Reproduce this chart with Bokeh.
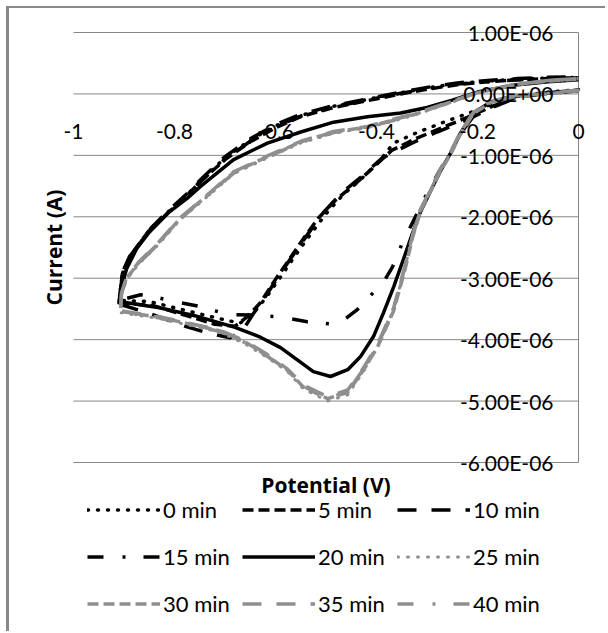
import math
from bokeh.plotting import figure
from bokeh.models import Range1d, FixedTicker, Label, Legend, LegendItem
from bokeh.embed import file_html
from bokeh.resources import INLINE

# ---------------- data (Potential in V, Current in A) ----------------
x_ticks = [-1.0, -0.8, -0.6, -0.4, -0.2, 0.0]
x_labels = ["-1", "-0.8", "-0.6", "-0.4", "-0.2", "0"]
y_ticks = [1e-06, 0.0, -1e-06, -2e-06, -3e-06, -4e-06, -5e-06, -6e-06]
y_labels = ["1.00E-06", "0.00E+00", "-1.00E-06", "-2.00E-06", "-3.00E-06",
            "-4.00E-06", "-5.00E-06", "-6.00E-06"]

series_names = ["0 min", "5 min", "10 min", "15 min", "20 min",
                "25 min", "30 min", "35 min", "40 min"]

pot_0 = [0.0, -0.06, -0.12, -0.17, -0.22, -0.27, -0.32, -0.366, -0.392, -0.432,
         -0.465, -0.50, -0.53, -0.56, -0.59, -0.62, -0.645, -0.67, -0.70, -0.75,
         -0.80, -0.85, -0.91, -0.903, -0.89, -0.868, -0.848, -0.814, -0.774, -0.745,
         -0.70, -0.65, -0.60, -0.55, -0.485, -0.418, -0.352, -0.29, -0.24, -0.18,
         -0.12, -0.06, 0.0]
cur_0 = [0.07e-6, 0.03e-6, -0.03e-6, -0.17e-6, -0.32e-6, -0.47e-6, -0.63e-6, -0.80e-6, -1.07e-6, -1.40e-6,
         -1.63e-6, -1.95e-6, -2.28e-6, -2.62e-6, -2.98e-6, -3.33e-6, -3.58e-6, -3.73e-6, -3.68e-6, -3.58e-6,
         -3.48e-6, -3.38e-6, -3.36e-6, -2.95e-6, -2.68e-6, -2.42e-6, -2.2e-6, -1.93e-6, -1.63e-6, -1.39e-6,
         -1.04e-6, -0.75e-6, -0.52e-6, -0.35e-6, -0.2e-6, -0.09e-6, 0.02e-6, 0.11e-6, 0.17e-6, 0.21e-6,
         0.24e-6, 0.26e-6, 0.27e-6]

pot_5 = [0.0, -0.06, -0.12, -0.17, -0.22, -0.27, -0.32, -0.37, -0.40, -0.44,
         -0.48, -0.515, -0.545, -0.575, -0.605, -0.63, -0.655, -0.68, -0.72, -0.78,
         -0.84, -0.91, -0.904, -0.892, -0.87, -0.85, -0.815, -0.776, -0.748, -0.70,
         -0.65, -0.60, -0.55, -0.485, -0.418, -0.352, -0.29, -0.24, -0.18, -0.12,
         -0.06, 0.0]
cur_5 = [0.06e-6, 0.02e-6, -0.04e-6, -0.2e-6, -0.38e-6, -0.55e-6, -0.72e-6, -0.92e-6, -1.15e-6, -1.45e-6,
         -1.72e-6, -2.02e-6, -2.36e-6, -2.72e-6, -3.08e-6, -3.4e-6, -3.62e-6, -3.78e-6, -3.75e-6, -3.6e-6,
         -3.45e-6, -3.4e-6, -2.98e-6, -2.7e-6, -2.44e-6, -2.22e-6, -1.95e-6, -1.66e-6, -1.42e-6, -1.07e-6,
         -0.78e-6, -0.55e-6, -0.37e-6, -0.22e-6, -0.11e-6, 0.0, 0.09e-6, 0.15e-6, 0.2e-6, 0.23e-6,
         0.25e-6, 0.26e-6]

pot_10 = [0.0, -0.06, -0.12, -0.17, -0.22, -0.28, -0.33, -0.39, -0.43, -0.47,
          -0.505, -0.535, -0.565, -0.595, -0.62, -0.645, -0.665, -0.69, -0.73, -0.78,
          -0.84, -0.91, -0.903, -0.89, -0.866, -0.846, -0.812, -0.772, -0.744, -0.70,
          -0.65, -0.60, -0.55, -0.485, -0.418, -0.352, -0.29, -0.24, -0.18, -0.12,
          -0.06, 0.0]
cur_10 = [0.05e-6, 0.01e-6, -0.05e-6, -0.22e-6, -0.42e-6, -0.62e-6, -0.80e-6, -1.05e-6, -1.35e-6, -1.62e-6,
          -1.93e-6, -2.27e-6, -2.62e-6, -2.98e-6, -3.3e-6, -3.59e-6, -3.85e-6, -3.97e-6, -3.9e-6, -3.78e-6,
          -3.6e-6, -3.42e-6, -2.92e-6, -2.66e-6, -2.4e-6, -2.18e-6, -1.9e-6, -1.6e-6, -1.36e-6, -1.02e-6,
          -0.73e-6, -0.5e-6, -0.33e-6, -0.19e-6, -0.08e-6, 0.03e-6, 0.12e-6, 0.18e-6, 0.22e-6, 0.25e-6,
          0.27e-6, 0.28e-6]

pot_15 = [0.0, -0.06, -0.12, -0.17, -0.2, -0.225, -0.25, -0.275, -0.3, -0.32,
          -0.335, -0.35, -0.368, -0.385, -0.402, -0.42, -0.438, -0.46, -0.481, -0.537,
          -0.59, -0.645, -0.695, -0.749, -0.80, -0.842, -0.867, -0.91, -0.902, -0.888,
          -0.866, -0.846, -0.812, -0.773, -0.746, -0.70, -0.65, -0.60, -0.55, -0.485,
          -0.418, -0.352, -0.29, -0.24, -0.18, -0.12, -0.06, 0.0]
cur_15 = [0.06e-6, 0.02e-6, -0.03e-6, -0.14e-6, -0.28e-6, -0.55e-6, -0.9e-6, -1.25e-6, -1.62e-6, -1.95e-6,
          -2.2e-6, -2.45e-6, -2.81e-6, -3.05e-6, -3.19e-6, -3.36e-6, -3.51e-6, -3.65e-6, -3.75e-6, -3.71e-6,
          -3.63e-6, -3.6e-6, -3.59e-6, -3.46e-6, -3.38e-6, -3.30e-6, -3.27e-6, -3.36e-6, -2.88e-6, -2.64e-6,
          -2.41e-6, -2.2e-6, -1.93e-6, -1.65e-6, -1.41e-6, -1.06e-6, -0.77e-6, -0.54e-6, -0.36e-6, -0.21e-6,
          -0.1e-6, 0.01e-6, 0.1e-6, 0.16e-6, 0.2e-6, 0.23e-6, 0.25e-6, 0.26e-6]

pot_20 = [0.0, -0.06, -0.13, -0.174, -0.208, -0.234, -0.253, -0.273, -0.293, -0.313,
          -0.33, -0.347, -0.366, -0.386, -0.406, -0.432, -0.457, -0.491, -0.525, -0.55,
          -0.59, -0.63, -0.68, -0.76, -0.83, -0.91, -0.905, -0.895, -0.875, -0.85,
          -0.81, -0.775, -0.749, -0.683, -0.616, -0.55, -0.485, -0.418, -0.352, -0.30,
          -0.25, -0.2, -0.13, -0.06, 0.0]
cur_20 = [0.06e-6, 0.01e-6, -0.04e-6, -0.13e-6, -0.31e-6, -0.64e-6, -0.96e-6, -1.25e-6, -1.58e-6, -1.92e-6,
          -2.3e-6, -2.70e-6, -3.14e-6, -3.56e-6, -3.95e-6, -4.28e-6, -4.49e-6, -4.60e-6, -4.52e-6, -4.37e-6,
          -4.13e-6, -3.96e-6, -3.80e-6, -3.61e-6, -3.48e-6, -3.38e-6, -3.15e-6, -2.85e-6, -2.52e-6, -2.25e-6,
          -1.92e-6, -1.70e-6, -1.51e-6, -1.07e-6, -0.80e-6, -0.62e-6, -0.46e-6, -0.37e-6, -0.31e-6, -0.22e-6,
          -0.10e-6, 0.03e-6, 0.14e-6, 0.20e-6, 0.23e-6]

pot_gray = [0.0, -0.06, -0.13, -0.174, -0.208, -0.234, -0.253, -0.273, -0.293, -0.313,
            -0.328, -0.343, -0.366, -0.398, -0.426, -0.457, -0.497, -0.545, -0.576, -0.62,
            -0.66, -0.709, -0.762, -0.828, -0.907, -0.905, -0.895, -0.87, -0.834, -0.788,
            -0.749, -0.729, -0.683, -0.616, -0.55, -0.485, -0.418, -0.352, -0.327, -0.259,
            -0.2, -0.13, -0.06, 0.0]
cur_25 = [0.06e-6, 0.01e-6, -0.04e-6, -0.13e-6, -0.31e-6, -0.64e-6, -0.96e-6, -1.23e-6, -1.56e-6, -1.89e-6,
          -2.3e-6, -2.81e-6, -3.51e-6, -4.11e-6, -4.52e-6, -4.9e-6, -5.0e-6, -4.8e-6, -4.52e-6, -4.27e-6,
          -4.07e-6, -3.88e-6, -3.78e-6, -3.66e-6, -3.56e-6, -3.27e-6, -3.02e-6, -2.76e-6, -2.47e-6, -2.04e-6,
          -1.77e-6, -1.63e-6, -1.3e-6, -1.04e-6, -0.8e-6, -0.64e-6, -0.55e-6, -0.41e-6, -0.35e-6, -0.16e-6,
          0.01e-6, 0.14e-6, 0.21e-6, 0.24e-6]
cur_30 = [0.05e-6, 0.0, -0.05e-6, -0.14e-6, -0.32e-6, -0.66e-6, -0.98e-6, -1.25e-6, -1.58e-6, -1.91e-6,
          -2.32e-6, -2.84e-6, -3.53e-6, -4.12e-6, -4.5e-6, -4.86e-6, -4.96e-6, -4.77e-6, -4.5e-6, -4.24e-6,
          -4.04e-6, -3.86e-6, -3.76e-6, -3.64e-6, -3.54e-6, -3.25e-6, -3.0e-6, -2.74e-6, -2.45e-6, -2.02e-6,
          -1.75e-6, -1.61e-6, -1.28e-6, -1.02e-6, -0.78e-6, -0.62e-6, -0.54e-6, -0.39e-6, -0.34e-6, -0.15e-6,
          0.02e-6, 0.15e-6, 0.21e-6, 0.24e-6]
cur_35 = [0.06e-6, 0.01e-6, -0.04e-6, -0.12e-6, -0.3e-6, -0.62e-6, -0.94e-6, -1.22e-6, -1.55e-6, -1.88e-6,
          -2.28e-6, -2.78e-6, -3.48e-6, -4.08e-6, -4.46e-6, -4.82e-6, -4.93e-6, -4.74e-6, -4.48e-6, -4.22e-6,
          -4.02e-6, -3.85e-6, -3.75e-6, -3.63e-6, -3.53e-6, -3.24e-6, -2.99e-6, -2.73e-6, -2.44e-6, -2.01e-6,
          -1.74e-6, -1.6e-6, -1.27e-6, -1.01e-6, -0.77e-6, -0.61e-6, -0.53e-6, -0.38e-6, -0.33e-6, -0.14e-6,
          0.02e-6, 0.15e-6, 0.22e-6, 0.25e-6]
cur_40 = [0.06e-6, 0.02e-6, -0.03e-6, -0.12e-6, -0.3e-6, -0.63e-6, -0.95e-6, -1.23e-6, -1.56e-6, -1.9e-6,
          -2.3e-6, -2.8e-6, -3.5e-6, -4.1e-6, -4.48e-6, -4.85e-6, -4.95e-6, -4.76e-6, -4.5e-6, -4.25e-6,
          -4.05e-6, -3.87e-6, -3.77e-6, -3.65e-6, -3.55e-6, -3.26e-6, -3.01e-6, -2.75e-6, -2.46e-6, -2.03e-6,
          -1.76e-6, -1.62e-6, -1.29e-6, -1.03e-6, -0.79e-6, -0.63e-6, -0.54e-6, -0.4e-6, -0.34e-6, -0.15e-6,
          0.02e-6, 0.15e-6, 0.22e-6, 0.25e-6]

# ---------------- styles ----------------
BLACK = "#000000"
GRAY = "#8f8f8f"
GRID = "#868686"
TICK_FONT = "Lato"
TITLE_FONT = "Open Sans"

series = [
    (pot_0, cur_0, BLACK, "1 9", "round", 3.5),
    (pot_5, cur_5, BLACK, "11 5", "butt", 3.5),
    (pot_10, cur_10, BLACK, "19 15", "butt", 3.5),
    (pot_15, cur_15, BLACK, "16 19 3 18", "butt", 3.5),
    (pot_20, cur_20, BLACK, "solid", "butt", 3.5),
    (pot_gray, cur_25, GRAY, "1 9", "round", 3.0),
    (pot_gray, cur_30, GRAY, "11 5", "butt", 3.5),
    (pot_gray, cur_35, GRAY, "19 15", "butt", 3.5),
    (pot_gray, cur_40, GRAY, "16 19 3 18", "butt", 3.5),
]

# Canvas layout: the plotting frame fills the whole canvas so that titles,
# legend and labels drawn around the data area are never clipped.
W, H = 599, 625
PX_LEFT, PX_RIGHT = 64, 569      # canvas pixels of x = -1 and x = 0
PX_TOP, PX_BOTTOM = 24, 454      # canvas pixels of y = 1e-6 and y = -6e-6
x0v, x1v = x_ticks[0], x_ticks[-1]
y0v, y1v = y_ticks[-1], y_ticks[0]
sx = (x1v - x0v) / (PX_RIGHT - PX_LEFT)
sy = (y1v - y0v) / (PX_BOTTOM - PX_TOP)
x_range = Range1d(x0v - PX_LEFT * sx, x1v + (W - PX_RIGHT) * sx)
y_range = Range1d(y0v - (H - PX_BOTTOM) * sy, y1v + PX_TOP * sy)

p = figure(width=W, height=H, output_backend="svg", toolbar_location=None,
           x_range=x_range, y_range=y_range,
           min_border_left=0, min_border_right=0, min_border_top=0, min_border_bottom=0)
p.styles = {"margin-left": "6px", "margin-top": "6px",
            "border-left": "3px solid #888888", "border-top": "2px solid #888888"}
p.outline_line_color = None
p.background_fill_color = "white"
p.border_fill_color = "white"

# axes crossing at (0, 0), Excel style (labels only; lines drawn below)
p.xaxis.fixed_location = 0
p.yaxis.fixed_location = 0
p.xaxis.ticker = FixedTicker(ticks=x_ticks)
p.yaxis.ticker = FixedTicker(ticks=y_ticks)
p.xaxis.major_label_overrides = dict(zip(x_ticks, x_labels))
p.yaxis.major_label_overrides = dict(zip(y_ticks, y_labels))
for ax in (p.xaxis, p.yaxis):
    ax.axis_line_color = None
    ax.major_tick_in = 0
    ax.major_tick_out = 0
    ax.minor_tick_in = 0
    ax.minor_tick_out = 0
    ax.major_label_text_font = TICK_FONT
    ax.major_label_text_font_size = "21px"
    ax.major_label_text_color = "#000000"
p.xaxis.major_label_standoff = 30
p.yaxis.major_label_standoff = 25
p.xgrid.visible = False
p.ygrid.visible = False

# horizontal gridlines from x=-1 to x=0, and the vertical axis line at x=0
p.segment(x0=[x0v] * len(y_ticks), x1=[x1v] * len(y_ticks), y0=y_ticks, y1=y_ticks,
          line_color=GRID, line_width=1)
p.segment(x0=[x1v], x1=[x1v], y0=[y0v], y1=[y1v], line_color=GRID, line_width=1)

renderers = []
for xs, ys, color, dash, cap, w in series:
    r = p.line(xs, ys, line_color=color, line_width=w, line_dash=dash, line_cap=cap,
               line_join="round")
    renderers.append(r)

p.add_layout(Label(x=-0.5, y=y0v, y_offset=-22, text="Potential (V)",
                   text_font=TITLE_FONT, text_font_style="bold", text_font_size="21px",
                   text_align="center", text_baseline="middle", text_color="#000000"))
p.add_layout(Label(x=x0v, y=-2.5e-06, x_offset=-20, text="Current (A)", angle=math.pi / 2,
                   text_font=TITLE_FONT, text_font_style="bold", text_font_size="21px",
                   text_align="center", text_baseline="middle", text_color="#000000"))

legend = Legend(items=[LegendItem(label=n, renderers=[r]) for n, r in zip(series_names, renderers)],
                location=(78, 6), orientation="horizontal", ncols=3,
                glyph_width=73, glyph_height=47, label_height=47, label_width=79,
                label_standoff=3, spacing=0, padding=0, margin=0,
                border_line_color=None, background_fill_alpha=0,
                label_text_font=TICK_FONT, label_text_font_size="22px",
                label_text_color="#000000")
p.add_layout(legend)

open("out.html", "w").write(file_html(p, INLINE))
